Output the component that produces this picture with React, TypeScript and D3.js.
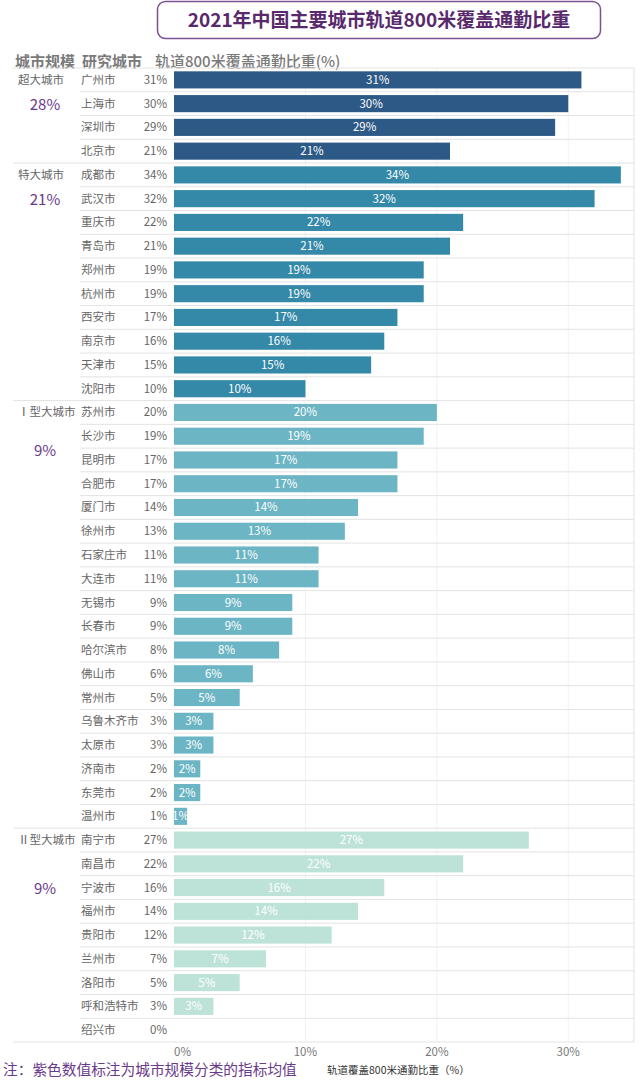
import React from "react";
import * as d3 from "d3";

const groups = ["超大城市", "特大城市", "Ⅰ型大城市", "Ⅱ型大城市"];
const groupAvg = ["28%", "21%", "9%", "9%"];
const groupColors = ["#2d5986", "#3488a8", "#6cb5c4", "#bde3d8"];
const groupAvgRowOffset = [1, 1, 1.6, 2];

const cities = [
  "广州市", "上海市", "深圳市", "北京市",
  "成都市", "武汉市", "重庆市", "青岛市", "郑州市", "杭州市", "西安市", "南京市", "天津市", "沈阳市",
  "苏州市", "长沙市", "昆明市", "合肥市", "厦门市", "徐州市", "石家庄市", "大连市", "无锡市", "长春市", "哈尔滨市", "佛山市", "常州市", "乌鲁木齐市", "太原市", "济南市", "东莞市", "温州市",
  "南宁市", "南昌市", "宁波市", "福州市", "贵阳市", "兰州市", "洛阳市", "呼和浩特市", "绍兴市",
];
const cityGroup = [
  0, 0, 0, 0,
  1, 1, 1, 1, 1, 1, 1, 1, 1, 1,
  2, 2, 2, 2, 2, 2, 2, 2, 2, 2, 2, 2, 2, 2, 2, 2, 2, 2,
  3, 3, 3, 3, 3, 3, 3, 3, 3,
];
const values = [
  31, 30, 29, 21,
  34, 32, 22, 21, 19, 19, 17, 16, 15, 10,
  20, 19, 17, 17, 14, 13, 11, 11, 9, 9, 8, 6, 5, 3, 3, 2, 2, 1,
  27, 22, 16, 14, 12, 7, 5, 3, 0,
];
const xTicks = [0, 10, 20, 30];

const FONT = "'Noto Sans CJK SC', 'Noto Sans', sans-serif";

export default function App() {
  const W = 640, H = 1088;
  const top = 68, bottom = 1042;
  const left = 174, right = 634;
  const x = d3.scaleLinear().domain([0, 35]).range([left, right]);
  const y = d3.scaleBand<number>().domain(d3.range(cities.length)).range([top, bottom]).paddingInner(0.28).paddingOuter(0.14);
  const step = y.step();
  const groupStart = groups.map((_, g) => cityGroup.indexOf(g));

  return (
    <svg width={W} height={H} style={{ position: "absolute", left: 0, top: 0, display: "block", fontFamily: FONT }}>
      <rect x={0} y={0} width={W} height={H} fill="#fff" />
      {/* title */}
      <rect x={157.5} y={1.5} width={443} height={37} rx={8} fill="#fff" stroke="#7d4f93" strokeWidth={1.5} />
      <text x={379} y={27} textAnchor="middle" fontSize={19} fontWeight="bold" fill="#58296c">2021年中国主要城市轨道800米覆盖通勤比重</text>

      {/* header */}
      <text x={15} y={67} fontSize={15} fontWeight="bold" fill="#7a7a7a">城市规模</text>
      <text x={82} y={67} fontSize={15} fontWeight="bold" fill="#7a7a7a">研究城市</text>
      <text x={155} y={67} fontSize={15} fontWeight={500} fill="#7a7a7a">轨道800米覆盖通勤比重(%)</text>

      {/* gridlines */}
      {xTicks.slice(1).map((t) => (
        <line key={t} x1={x(t)} x2={x(t)} y1={top} y2={bottom} stroke="#f2f2f2" />
      ))}
      <line x1={right} x2={right} y1={top} y2={bottom} stroke="#e2e2e2" />

      {/* row separators */}
      {cities.map((c, i) => {
        const isGroupStart = groupStart.includes(i);
        const yy = top + i * step;
        return <line key={c} x1={isGroupStart ? 13 : 80} x2={right} y1={yy} y2={yy} stroke="#e3e3e3" />;
      })}
      <line x1={13} x2={right} y1={bottom} y2={bottom} stroke="#e3e3e3" />

      {/* bars */}
      {cities.map((c, i) => {
        const v = values[i];
        const g = cityGroup[i];
        const by = y(i)!;
        const cy = by + y.bandwidth() / 2;
        return (
          <g key={c}>
            <text x={81} y={cy + 4} fontSize={11.5} fill="#666">{c}</text>
            <text x={167} y={cy + 4} fontSize={11.5} textAnchor="end" fill="#666">{v}%</text>
            {v > 0 && (
              <>
                <rect x={x(0)} y={by} width={x(v) - x(0)} height={y.bandwidth()} fill={groupColors[g]} />
                <text x={(x(0) + x(v)) / 2} y={cy + 4} fontSize={11.5} textAnchor="middle" fill="#fff">{v}%</text>
              </>
            )}
          </g>
        );
      })}

      {/* groups */}
      {groups.map((g, gi) => {
        const s = groupStart[gi];
        const cy0 = top + (s + 0.5) * step;
        const cyAvg = top + (s + 0.5 + groupAvgRowOffset[gi]) * step;
        return (
          <g key={g}>
            <text x={18} y={cy0 + 4} fontSize={11.5} fill="#666">{g}</text>
            <text x={45} y={cyAvg + 6} fontSize={15} textAnchor="middle" fill="#6a3a8a">{groupAvg[gi]}</text>
          </g>
        );
      })}

      {/* axis */}
      {xTicks.map((t, i) => (
        <text key={t} x={x(t)} y={1056} fontSize={11.5} textAnchor={i === 0 ? "start" : "middle"} fill="#777">{t}%</text>
      ))}

      {/* note */}
      <text x={3} y={1075} fontSize={14.7} fill="#6a3a8a">注：紫色数值标注为城市规模分类的指标均值</text>
      <text x={327} y={1074} fontSize={10.5} fill="#333">轨道覆盖800米通勤比重（%）</text>
    </svg>
  );
}
